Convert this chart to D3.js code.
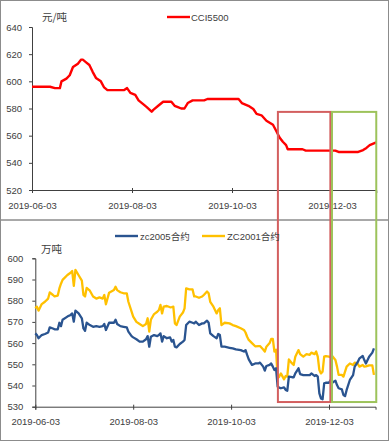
<!DOCTYPE html>
<html><head><meta charset="utf-8">
<script src="https://cdn.jsdelivr.net/npm/d3@7"></script>
<style>
html,body{margin:0;padding:0;background:#fff;}
svg{display:block;}
text{font-family:"Liberation Sans",Arial,sans-serif;}
</style></head>
<body>
<svg id="c" width="389" height="441"></svg>
<script>
// ---------- DATA ----------
const cciDates = ["2019-06-03","2019-06-14","2019-06-17","2019-06-20","2019-06-21","2019-06-24","2019-06-26","2019-06-28","2019-07-01","2019-07-03","2019-07-04","2019-07-06","2019-07-08","2019-07-10","2019-07-12","2019-07-15","2019-07-17","2019-07-19","2019-07-29","2019-07-31","2019-08-02","2019-08-05","2019-08-07","2019-08-10","2019-08-12","2019-08-14","2019-08-15","2019-08-16","2019-08-19","2019-08-22","2019-08-27","2019-08-29","2019-08-31","2019-09-02","2019-09-04","2019-09-06","2019-09-09","2019-09-16","2019-09-18","2019-10-07","2019-10-09","2019-10-13","2019-10-16","2019-10-18","2019-10-21","2019-10-24","2019-10-26","2019-10-28","2019-10-30","2019-11-01","2019-11-03","2019-11-05","2019-11-06","2019-11-15","2019-11-17","2019-12-05","2019-12-07","2019-12-19","2019-12-22","2019-12-24","2019-12-26","2019-12-30"];
const cciValues = [596,596,595,595,600,602,604.5,610.5,613,616,616,614,612,607,602.5,600,595.5,593.5,593.5,595,591.5,590,586,583,581,578.8,577.6,579,582,585,585,582,581,580,580,584,586,586,587,587,584,582,579.6,576,575,571,569.5,568,563.4,558.7,555.5,553,550,550,549,549,548,548,549.4,551,553,555];

const zcDates = ["2019-06-03","2019-06-04","2019-06-05","2019-06-07","2019-06-09","2019-06-11","2019-06-12","2019-06-14","2019-06-15","2019-06-17","2019-06-18","2019-06-19","2019-06-20","2019-06-23","2019-06-25","2019-06-26","2019-06-27","2019-06-28","2019-06-30","2019-07-02","2019-07-03","2019-07-04","2019-07-05","2019-07-07","2019-07-09","2019-07-11","2019-07-13","2019-07-15","2019-07-16","2019-07-17","2019-07-19","2019-07-22","2019-07-23","2019-07-24","2019-07-26","2019-07-28","2019-07-30","2019-07-31","2019-08-02","2019-08-03","2019-08-05","2019-08-07","2019-08-09","2019-08-11","2019-08-12","2019-08-13","2019-08-14","2019-08-16","2019-08-18","2019-08-19","2019-08-20","2019-08-21","2019-08-22","2019-08-24","2019-08-26","2019-08-27","2019-08-28","2019-08-29","2019-08-30","2019-09-01","2019-09-03","2019-09-04","2019-09-05","2019-09-07","2019-09-09","2019-09-10","2019-09-11","2019-09-13","2019-09-15","2019-09-16","2019-09-18","2019-09-19","2019-09-20","2019-09-22","2019-09-24","2019-09-25","2019-09-26","2019-09-27","2019-09-29","2019-10-02","2019-10-04","2019-10-06","2019-10-09","2019-10-11","2019-10-12","2019-10-13","2019-10-14","2019-10-16","2019-10-18","2019-10-20","2019-10-21","2019-10-23","2019-10-24","2019-10-25","2019-10-27","2019-10-28","2019-10-29","2019-10-30","2019-10-31","2019-11-01","2019-11-02","2019-11-03","2019-11-05","2019-11-06","2019-11-07","2019-11-08","2019-11-10","2019-11-11","2019-11-12","2019-11-14","2019-11-15","2019-11-17","2019-11-19","2019-11-21","2019-11-22","2019-11-24","2019-11-25","2019-11-26","2019-11-27","2019-11-28","2019-11-29","2019-11-30","2019-12-01","2019-12-03","2019-12-04","2019-12-05","2019-12-07","2019-12-08","2019-12-09","2019-12-11","2019-12-12","2019-12-13","2019-12-14","2019-12-16","2019-12-18","2019-12-19","2019-12-21","2019-12-22","2019-12-24","2019-12-25","2019-12-26","2019-12-28","2019-12-30","2019-12-31"];
const zc2005 = [564.6,563.8,562.3,563.8,564.3,565,567.4,566.9,566.5,566.5,569.6,568,571,572.5,573.3,574,570.1,575.3,574,571.7,566.9,565.8,569.6,568.5,567.7,568,567.7,568,569,566.2,569.6,569.6,571,569,568,567.7,567.4,565.4,563.3,562.7,561.8,560.7,560.7,561.8,563.3,558.3,563,563.8,563.3,563.8,564.6,560.7,563.3,562.3,562.7,560.7,561.5,558.3,558,559.6,560.7,561.5,568.5,570.1,569.6,569.3,570.1,568.5,569.3,569.3,570.6,569.6,564.6,563.3,562.3,564.3,563.8,558.3,558.3,557.8,557.5,557,556.7,556,556.7,554.4,552.3,549.7,550.4,550.4,550.8,548.9,547,549.2,549.7,550.4,548.9,547.3,548.1,539.4,539,538.7,539.1,537.9,537.5,544.2,543.9,543.9,545.7,548.1,545.4,544.9,544.9,544.9,545.7,544.5,544.9,544.2,536.3,533.9,533.5,541,541.3,541.3,542.6,541.3,542.3,540.2,538.7,538.2,535.5,535,537.9,542.6,544.9,548.9,551.2,552.8,553.9,552,550.4,553.6,555.5,557.5];
const zc2001 = [576.4,577.2,575.3,578.4,579.5,581,583.9,582.7,582,582.4,585.8,588,589.8,592.1,593.2,594,587,594.5,592,589.5,582.7,582,586,584.7,582,581,581.6,581,582.7,578.3,583.8,585,586.6,585,584,583.5,583.5,579.5,574.8,572.5,570,569,568,569,571.7,565.4,571,573.7,574.8,575.6,578,574,577.2,577.5,576.9,577,577.2,569.3,568.5,572.5,574.4,576.4,585.8,585.3,585.3,582,582,581.4,582,582.7,584.3,583.5,579.5,577.2,574,575.6,576.4,568.5,569.6,569.3,568.5,568,567,566.2,565,563,561.5,560,558.5,558.6,558.6,557,556,558.3,560,562,562,556,556.9,543.4,544.2,545.7,542.9,544.5,544.2,552.3,550.4,549.7,553.6,556.7,554.8,553.6,554.8,554.5,555.5,554.8,556,553.6,547.3,545.7,546.5,553.6,553.9,553.6,553.3,553.9,552,548.9,545,545,544.2,546.5,548.9,550.4,549.7,550.8,550.1,548.9,549.7,548.9,549,549.5,549.5,545];

const tickDates = ["2019-06-03","2019-08-03","2019-10-03","2019-12-03"];
const topTicks = [520,540,560,580,600,620,640];
const bottomTicks = [530,540,550,560,570,580,590,600];
const redBox = ["2019-10-31","2019-12-02"];
const greenBox = ["2019-12-03","2019-12-30"];
const boxTopValue = 577.5;     // on upper axis
const boxBottomValue = 532.2;  // on lower axis

// ---------- DRAW ----------
const parse = d3.timeParse("%Y-%m-%d");
const fmt = d3.timeFormat("%Y-%m-%d");
const svg = d3.select("#c");
const textCol = "#404040", axisCol = "#404040";

// panel frames
svg.append("rect").attr("x",0.5).attr("y",0.5).attr("width",388).attr("height",219.5)
  .attr("fill","none").attr("stroke","#8c8c8c");
svg.append("rect").attr("x",0.5).attr("y",220).attr("width",388).attr("height",220.5)
  .attr("fill","none").attr("stroke","#8c8c8c");

// scales
const xTop = d3.scaleTime().domain([parse("2019-06-03"), parse("2019-12-30")])
  .range([32, 32 + 300*210/183]);
const yTop = d3.scaleLinear().domain([520,640]).range([190,27]);
const xBot = d3.scaleTime().domain([parse("2019-06-03"), parse("2020-01-01")])
  .range([35.3, 35.3 + 293.7*212/183]);
const yBot = d3.scaleLinear().domain([530,600]).range([406.7,258.3]);

function styleAxis(g){
  g.selectAll("path").attr("stroke",axisCol).attr("stroke-width",1);
  g.selectAll("line").attr("stroke",axisCol);
  g.selectAll("text").attr("fill",textCol).style("font-size","9.5px")
    .style("font-family",'"Liberation Sans",Arial,sans-serif');
}

// top axes
const gxT = svg.append("g").attr("transform","translate(0,190)")
  .call(d3.axisBottom(xTop).tickValues(tickDates.map(parse)).tickFormat(fmt).tickSizeOuter(0).tickSize(3).tickPadding(9));
styleAxis(gxT);
gxT.selectAll(".tick line").attr("y1",-2);
const gyT = svg.append("g").attr("transform","translate(32,0)")
  .call(d3.axisLeft(yTop).tickValues(topTicks).tickSizeOuter(0).tickSize(3).tickPadding(7));
styleAxis(gyT);

// bottom axes
const gxB = svg.append("g").attr("transform","translate(0,406.7)")
  .call(d3.axisBottom(xBot).tickValues(tickDates.map(parse)).tickFormat(fmt).tickSizeOuter(0).tickSize(3).tickPadding(9));
styleAxis(gxB);
gxB.selectAll(".tick line").attr("y1",-2);
const gyB = svg.append("g").attr("transform","translate(35.3,0)")
  .call(d3.axisLeft(yBot).tickValues(bottomTicks).tickSizeOuter(0).tickSize(3).tickPadding(9));
styleAxis(gyB);

// lines
const cciData = cciDates.map((d,i)=>({x:parse(d), y:cciValues[i]}));
const lineTop = d3.line().x(d=>xTop(d.x)).y(d=>yTop(d.y));
svg.append("path").datum(cciData).attr("d",lineTop).attr("fill","none")
  .attr("stroke","#ff0000").attr("stroke-width",2.4).attr("stroke-linejoin","round");

const lineBot = d3.line().x(d=>xBot(d.x)).y(d=>yBot(d.y));
const y01 = zcDates.map((d,i)=>({x:parse(d), y:zc2001[i]}));
const y05 = zcDates.map((d,i)=>({x:parse(d), y:zc2005[i]}));
svg.append("path").datum(y01).attr("d",lineBot).attr("fill","none")
  .attr("stroke","#ffc000").attr("stroke-width",2.3).attr("stroke-linejoin","round");
svg.append("path").datum(y05).attr("d",lineBot).attr("fill","none")
  .attr("stroke","#2a5490").attr("stroke-width",2.3).attr("stroke-linejoin","round");

// boxes spanning both panels
function box(dates, col){
  const x0 = xTop(parse(dates[0])), x1 = xTop(parse(dates[1]));
  const y0 = yTop(boxTopValue), y1 = yBot(boxBottomValue);
  svg.append("rect").attr("x",x0).attr("y",y0).attr("width",x1-x0).attr("height",y1-y0)
    .attr("fill","none").attr("stroke",col).attr("stroke-width",2);
}
box(redBox, "#d35f5f");
box(greenBox, "#9dc35b");

// titles & legends
svg.append("text").attr("x",42).attr("y",21).text("元/吨").attr("fill",textCol)
  .style("font-size","10.5px").style("font-family",'"Noto Sans CJK SC",sans-serif');
svg.append("line").attr("x1",167).attr("x2",190).attr("y1",17).attr("y2",17)
  .attr("stroke","#ff0000").attr("stroke-width",2.4);
svg.append("text").attr("x",191).attr("y",20.5).text("CCI5500").attr("fill",textCol).style("font-size","9.5px");

svg.append("text").attr("x",41).attr("y",253).text("万吨").attr("fill",textCol)
  .style("font-size","10.5px").style("font-family",'"Noto Sans CJK SC",sans-serif');
svg.append("line").attr("x1",115).attr("x2",138).attr("y1",236).attr("y2",236)
  .attr("stroke","#2a5490").attr("stroke-width",2.4);
svg.append("text").attr("x",140).attr("y",239.5).text("zc2005合约").attr("fill",textCol)
  .style("font-size","9.5px").style("font-family",'"Liberation Sans","Noto Sans CJK SC",sans-serif');
svg.append("line").attr("x1",202).attr("x2",225).attr("y1",236).attr("y2",236)
  .attr("stroke","#ffc000").attr("stroke-width",2.4);
svg.append("text").attr("x",227).attr("y",239.5).text("ZC2001合约").attr("fill",textCol)
  .style("font-size","9.5px").style("font-family",'"Liberation Sans","Noto Sans CJK SC",sans-serif');
</script>
</body></html>
